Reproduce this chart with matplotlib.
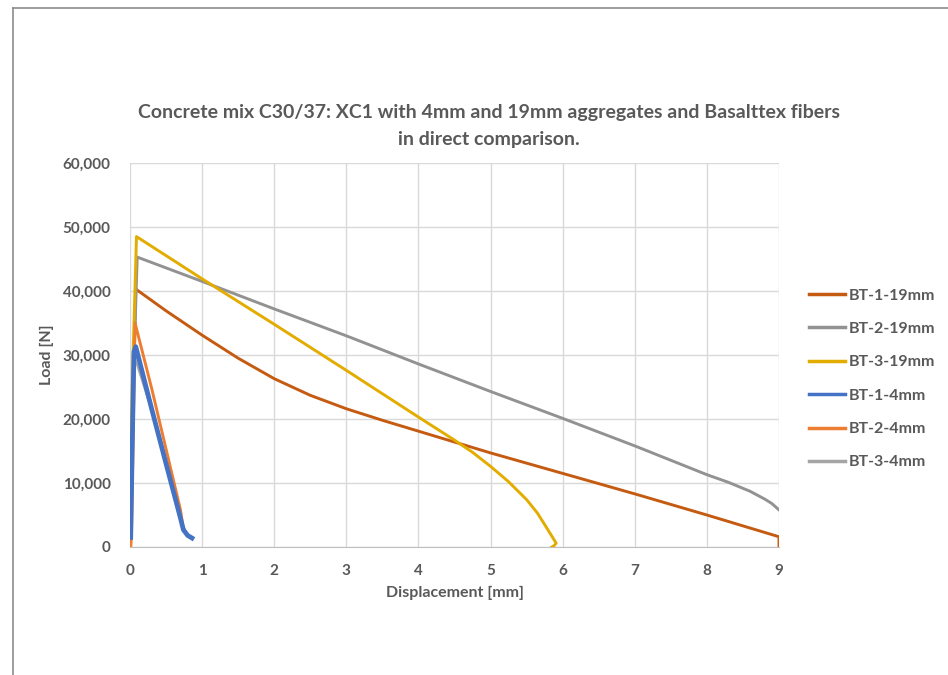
import matplotlib.pyplot as plt
from matplotlib.lines import Line2D
from matplotlib.ticker import FuncFormatter

# Dados (deslocamento em mm, carga em N)
bt1_19_x = [0, 0.03, 0.08, 0.5, 1.0, 1.5, 2.0, 2.5, 3.0, 3.5, 4.0, 5.0, 6.0, 7.0, 8.0, 9.0, 9.0]
bt1_19_y = [0, 20000, 40300, 36900, 33100, 29500, 26300, 23700, 21600, 19800, 18100, 14700, 11500, 8300, 5000, 1600, 0]

bt2_19_x = [0, 0.03, 0.1, 1, 2, 3, 4, 5, 6, 7, 8, 8.3, 8.6, 8.8, 8.9, 9.0]
bt2_19_y = [0, 20000, 45300, 41500, 37200, 33000, 28600, 24300, 20100, 15800, 11300, 10100, 8700, 7500, 6800, 5800]

bt3_19_x = [0, 0.03, 0.09, 1, 2, 3, 4, 4.5, 4.75, 5.0, 5.25, 5.5, 5.65, 5.8, 5.91, 5.88, 5.85]
bt3_19_y = [0, 25000, 48500, 41900, 34800, 27600, 20300, 16700, 14800, 12600, 10200, 7400, 5300, 2600, 600, 200, 0]

bt1_4_x = [0.01, 0.03, 0.055, 0.08, 0.3, 0.5, 0.7, 0.74, 0.8, 0.86]
bt1_4_y = [1500, 15000, 30500, 31300, 21600, 13000, 4500, 2700, 1800, 1400]

bt2_4_x = [0.01, 0.02, 0.07, 0.3, 0.5, 0.7, 0.74, 0.8]
bt2_4_y = [0, 1500, 35000, 24800, 15300, 5800, 2800, 1800]

bt3_4_x = [0.01, 0.03, 0.055, 0.3, 0.7, 0.8]
bt3_4_y = [0, 15000, 30000, 21300, 4300, 1700]

series = [
    ("BT-1-19mm", bt1_19_x, bt1_19_y, "#C55A11"),
    ("BT-2-19mm", bt2_19_x, bt2_19_y, "#929292"),
    ("BT-3-19mm", bt3_19_x, bt3_19_y, "#E2AC00"),
    ("BT-1-4mm", bt1_4_x, bt1_4_y, "#4472C4"),
    ("BT-2-4mm", bt2_4_x, bt2_4_y, "#ED7D31"),
    ("BT-3-4mm", bt3_4_x, bt3_4_y, "#A5A5A5"),
]

fonte = "Lato"
cinza = "#595959"

fig = plt.figure(figsize=(9.48, 6.75), dpi=100)
ax = fig.add_axes([130 / 948, 1 - 547 / 675, 649 / 948, 384 / 675])

# ordem de desenho: 4mm por cima dos 19mm, azul por cima de tudo
ordem = [5, 0, 1, 2, 4, 3]
for z, i in enumerate(ordem):
    nome, x, y, cor = series[i]
    largura = 3.4 if nome == "BT-1-4mm" else 2.1
    if nome == "BT-3-4mm":
        largura = 1.5
    ax.plot(x, y, color=cor, linewidth=largura, solid_joinstyle="round", zorder=3 + z)

ax.set_xlim(0, 9)
ax.set_ylim(0, 60000)
ax.set_xticks(range(0, 10))
ax.set_yticks(range(0, 60001, 10000))
ax.yaxis.set_major_formatter(FuncFormatter(lambda v, p: f"{int(v):,}"))
ax.grid(True, color="#D9D9D9", linewidth=1)
ax.set_axisbelow(True)
for lado in ["top", "right", "left"]:
    ax.spines[lado].set_visible(False)
ax.spines["bottom"].set_color("#BFBFBF")
ax.tick_params(axis="x", length=0, pad=12, labelsize=11, labelcolor=cinza)
ax.tick_params(axis="y", length=0, pad=14, labelsize=11, labelcolor=cinza)
for t in ax.get_xticklabels() + ax.get_yticklabels():
    t.set_fontfamily(fonte)
    t.set_fontweight("bold")

ax.set_xlabel("Displacement [mm]", fontsize=11.5, fontweight="bold", color=cinza, family=fonte, labelpad=6)
ax.set_ylabel("Load [N]", fontsize=11.5, fontweight="bold", color=cinza, family=fonte, labelpad=6)

fig.text(489 / 948, 1 - 126 / 675,
         "Concrete mix C30/37: XC1 with 4mm and 19mm aggregates and Basalttex fibers\nin direct comparison.",
         ha="center", va="center", fontsize=14, fontweight="bold", color=cinza, family=fonte,
         linespacing=1.65)

# legenda
handles = [Line2D([0], [0], color=s[3], linewidth=2.5) for s in series]
labels = [s[0] for s in series]
leg = fig.legend(handles, labels, loc="center left", bbox_to_anchor=(795 / 948, 1 - 379 / 675),
                 frameon=False, handlelength=2.2, handletextpad=0.25, labelspacing=1.2,
                 prop={"family": fonte, "weight": "bold", "size": 11.5})
for t in leg.get_texts():
    t.set_color(cinza)

# moldura do gráfico (só topo e esquerda visíveis)
fig.add_artist(Line2D([13 / 948, 1], [1 - 8 / 675, 1 - 8 / 675], color="#8C8C8C", linewidth=1.2))
fig.add_artist(Line2D([13 / 948, 13 / 948], [0, 1 - 8 / 675], color="#8C8C8C", linewidth=1.2))

plt.savefig("out.png", dpi=100)
plt.close()
